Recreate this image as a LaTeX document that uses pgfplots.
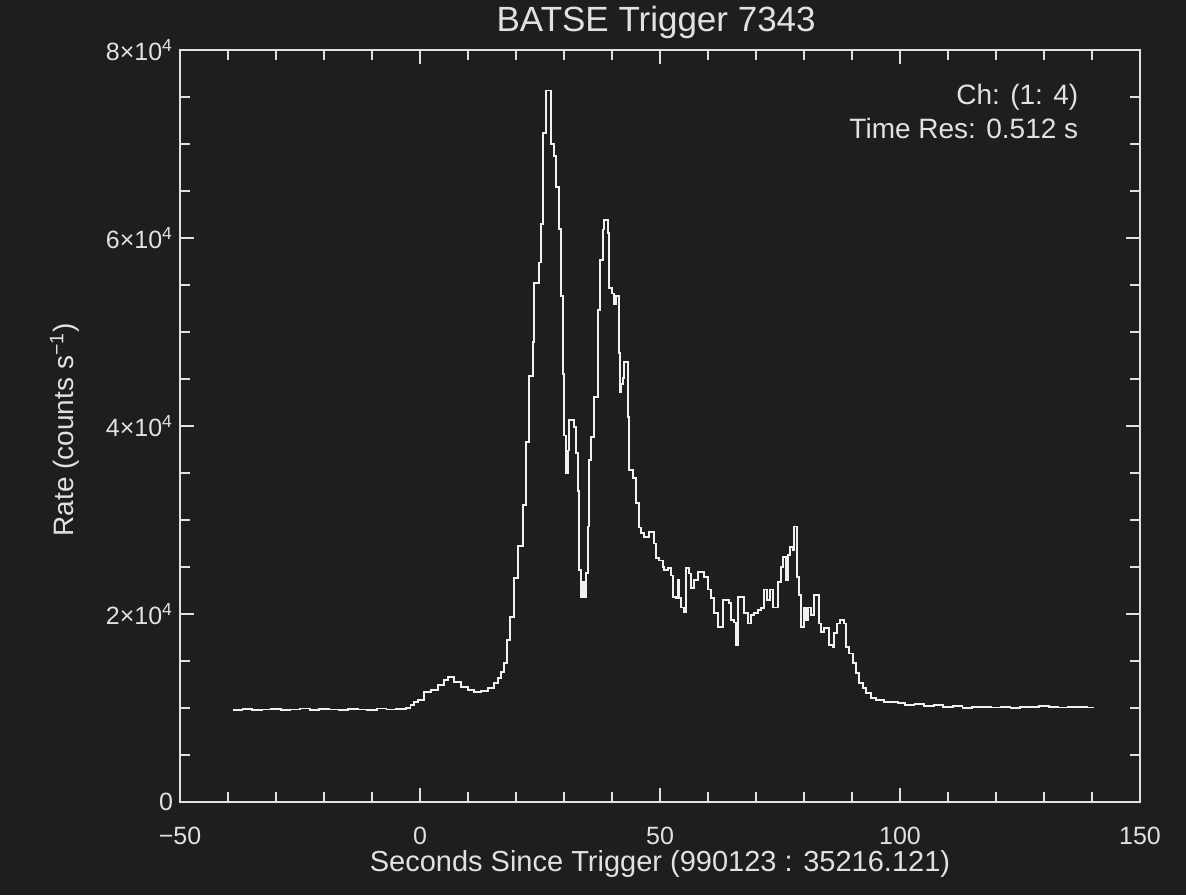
\documentclass[border=0pt]{standalone}
\usepackage{fontspec}
\setmainfont{Liberation Sans}
\usepackage{pgfplots}
\pgfplotsset{compat=1.18}
\definecolor{bg}{RGB}{30,30,30}
\definecolor{fg}{RGB}{225,225,225}
\definecolor{curve}{RGB}{240,240,240}
\begin{document}
\begin{tikzpicture}
\useasboundingbox (-90pt,-46.5pt) rectangle (503pt,401pt);
\fill[bg] (-90pt,-46.5pt) rectangle (503pt,401pt);
\begin{axis}[
  clip mode=individual,
  scale only axis, width=480pt, height=376pt,
  xmin=-50, xmax=150, ymin=0, ymax=80000,
  axis line style={draw=fg, line width=1pt},
  xtick={-50,0,50,100,150}, minor x tick num=4,
  xticklabels={−50,0,50,100,150},
  ytick={0,20000,40000,60000,80000}, minor y tick num=3,
  yticklabels={0,2×10\textsuperscript{4},4×10\textsuperscript{4},6×10\textsuperscript{4},8×10\textsuperscript{4}},
  scaled y ticks=false,
  tick align=inside,
  major tick length=7pt, minor tick length=5pt,
  every tick/.style={draw=fg, line width=0.8pt},
  tick label style={text=fg, font=\fontsize{12.5}{14}\selectfont},
  xticklabel style={yshift=-9pt},
  xlabel={Seconds Since Trigger (990123 : 35216.121)},
  ylabel={Rate (counts s\textsuperscript{−1})},
  xlabel style={text=fg, font=\fontsize{14.5}{17}\selectfont, at={(axis description cs:0.5,-0.082)}, anchor=center},
  ylabel style={text=fg, font=\fontsize{14}{16}\selectfont, at={(axis description cs:-0.12,0.495)}, anchor=center},
]
\addplot[const plot mark left, curve, line width=0.9pt] coordinates {
(-39,9800) (-37,9900) (-35,9750) (-33,9850) (-31,9900) (-29,9800) (-27,9850) (-25,9950)
(-23,9800) (-21,9900) (-19,9850) (-17,9800) (-15,9900) (-13,9850) (-11,9800) (-9,9950)
(-7,9850) (-5,9900) (-3,10000) (-2,10300) (-1.25,10600) (-0.4,10850) (0.8,11700)
(2.3,11900) (3.75,12450) (5,13000) (5.8,13300) (7.1,12750) (8.5,12250) (10,11900)
(11.25,11700) (12.7,11800) (14.2,12100) (15.4,12650) (16.25,13200) (16.9,13800)
(17.5,14800) (18.1,17200) (18.75,19700) (19.6,23800) (20.4,27200) (21.5,31600)
(22.1,38300) (22.7,45300) (23.5,48900) (23.8,55200) (24.8,57400) (25.2,61500)
(25.6,71200) (26.3,75700) (27.3,70000) (27.85,68700) (28.3,65400) (29.0,61000)
(29.4,53800) (29.75,45500) (30.0,39000) (30.4,35000) (30.8,37400) (31.0,40600)
(32.1,39900) (32.5,37100) (32.9,33100) (33.2,24700) (33.5,21800) (34.0,23400)
(34.2,21800) (34.6,24400) (35.0,29300) (35.2,36400) (35.6,38800) (36.25,43100)
(37.1,52300) (37.5,57700) (38.1,60900) (38.3,61900) (39.2,60500) (39.4,54700)
(40.0,54100) (40.4,53000) (40.8,53800) (41.5,47800) (41.7,43600) (41.9,44500)
(42.3,45100) (42.5,46800) (43.3,41000) (43.5,35300) (44.4,34500) (45.0,31800)
(45.6,29200) (46.0,28600) (46.7,28200) (47.7,28700) (48.75,27500) (49.2,26000)
(49.8,25700) (50.6,25000) (50.8,24700) (51.7,24900) (52.3,24100) (52.7,21800)
(53.3,21700) (53.75,23600) (54.0,21700) (54.4,20700) (55.0,20200) (55.4,24900)
(56.0,24300) (56.5,22800) (57.1,23600) (57.9,24500) (58.5,24500) (59.2,23900)
(60.0,22600) (60.6,21700) (61.25,20100) (62.1,18600) (62.7,18600) (63.1,21500)
(63.75,21500) (64.4,21200) (64.8,19400) (65.4,19100) (65.8,16700) (66.25,21800)
(66.9,21800) (67.5,20100) (68.3,19000) (69.0,19900) (69.6,20100) (70.4,20400)
(71.0,20600) (71.7,22600) (72.3,21500) (72.9,22600) (73.5,20700) (74.6,23400)
(75.2,25000) (75.6,26100) (76.25,23600) (76.7,26300) (77.1,27100) (77.7,26800)
(77.9,29300) (78.5,23900) (79.0,22000) (79.4,18600) (80.0,20700) (80.4,19400)
(80.8,20700) (81.5,19900) (82.1,22000) (83.1,19000) (83.5,18100) (84.2,18500)
(85.2,16700) (86.0,16500) (86.25,18000) (86.9,19000) (87.5,19400) (88.3,19000)
(88.75,16500) (89.4,15800) (90.2,14800) (90.8,13700) (91.5,12700) (92.3,12100)
(92.9,11600) (94.0,11100) (95.0,10850) (96.7,10600) (99.6,10500) (101,10300)
(103,10400) (105,10200) (107,10300) (109,10100) (111,10200) (113,10000) (115,10100)
(117,10150) (119,10050) (121,10100) (123,10000) (125,10150) (127,10100) (129,10200)
(131,10100) (133,10050) (135,10150) (137,10100) (139,10050) (140.5,10050)
};
\node[text=fg, font=\fontsize{17.5}{20}\selectfont, anchor=center] at (axis description cs:0.496,1.037) {BATSE Trigger 7343};
\node[text=fg, font=\fontsize{14}{16}\selectfont, anchor=east] at (axis description cs:0.943,0.9375) {Ch: (1: 4)};
\node[text=fg, font=\fontsize{14}{16}\selectfont, anchor=east] at (axis description cs:0.943,0.896) {Time Res: 0.512 s};
\end{axis}
\end{tikzpicture}
\end{document}
